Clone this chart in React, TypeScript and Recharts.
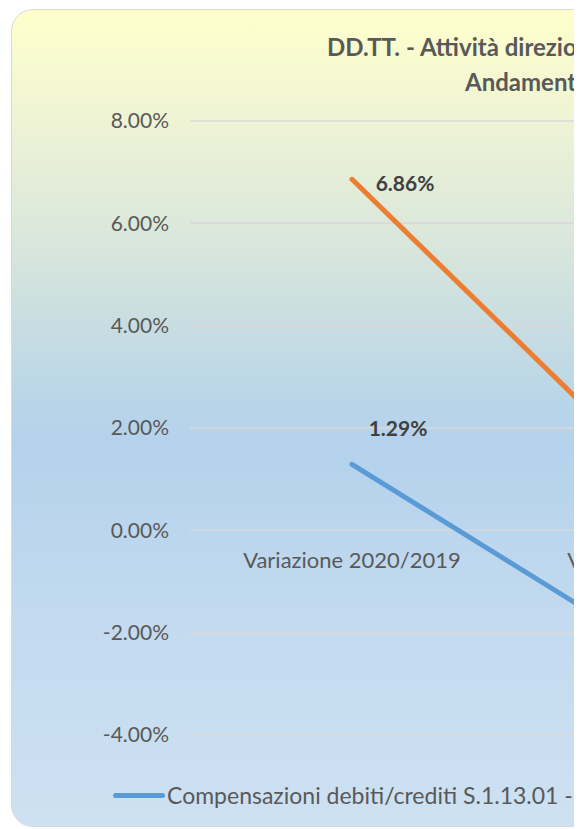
import React from 'react';
import { LineChart, Line, XAxis, YAxis, CartesianGrid, Legend, LabelList } from 'recharts';

const categories = ['Variazione 2020/2019', 'Variazione 2021/2020'];
const numeroValues = [1.29, -2.64];
const importoValues = [6.86, 0.69];
const yTicks = [-4, -2, 0, 2, 4, 6, 8];
const titleLines = ['DD.TT. - Attività direzioni territoriali', 'Andamento compensazioni'];
const seriesNumero = { key: 'numero', name: 'Compensazioni debiti/crediti S.1.13.01 - Numero', color: '#5B9BD5' };
const seriesImporto = { key: 'importo', name: 'Compensazioni debiti/crediti S.1.13.01 - Importo', color: '#ED7D31' };
const seriesList = [seriesNumero, seriesImporto];

const data = categories.map((c, i) => ({
  cat: c,
  numero: numeroValues[i],
  importo: importoValues[i],
  base: 0,
}));

const FONT = 'Lato, "Open Sans", sans-serif';
const fmt = (v: number) => `${v.toFixed(2)}%`;

const makeValueLabel = (dx: number, dy: number) => (props: any) => {
  const { x, y, value, index } = props;
  if (index !== 0) return null;
  return (
    <text
      x={x + dx}
      y={y + dy}
      textAnchor="middle"
      dominantBaseline="central"
      fontFamily={FONT}
      fontSize={21}
      fontWeight="bold"
      fill="#404040"
    >
      {fmt(Number(value))}
    </text>
  );
};

const CategoryLabel = (props: any) => {
  const { x, y, value } = props;
  return (
    <text
      x={x}
      y={y + 29}
      textAnchor="middle"
      dominantBaseline="central"
      fontFamily={FONT}
      fontSize={22}
      fill="#595959"
    >
      {value}
    </text>
  );
};

const renderLegend = () => (
  <div
    style={{
      display: 'flex',
      alignItems: 'center',
      whiteSpace: 'nowrap',
      fontFamily: FONT,
      fontSize: 23,
      color: '#595959',
      height: 30,
    }}
  >
    {seriesList.map((s) => (
      <div key={s.key} style={{ display: 'flex', alignItems: 'center', marginRight: 40 }}>
        <span
          style={{
            display: 'inline-block',
            width: 52,
            height: 5,
            borderRadius: 2.5,
            background: s.color,
            marginRight: 2,
          }}
        />
        <span>{s.name}</span>
      </div>
    ))}
  </div>
);

export default function App() {
  const W = 860;
  const H = 818;
  return (
    <div style={{ position: 'relative', width: 566, height: 821, overflow: 'hidden' }}>
      <div
        style={{
          position: 'absolute',
          left: 3,
          top: 1,
          width: W,
          height: H,
          boxSizing: 'border-box',
          border: '1.5px solid #D9D9D9',
          borderRadius: 22,
          background:
            'linear-gradient(to bottom, #FFFFCC 0%, #EEF3D5 14%, #D6E5DC 30%, #B9D5E8 48%, #B4D2EC 53%, #C3DAEF 75%, #CDE1F2 100%)',
        }}
      />
      <div style={{ position: 'absolute', left: 3, top: 1 }}>
        <LineChart
          width={W}
          height={H}
          data={data}
          margin={{ top: 112, right: 33, bottom: 62, left: 0 }}
        >
          <CartesianGrid vertical={false} stroke="#D9D9D9" strokeWidth={1.5} />
          <XAxis dataKey="cat" scale="band" hide />
          <YAxis
            width={179}
            domain={[-4, 8]}
            ticks={yTicks}
            tickFormatter={fmt}
            axisLine={false}
            tickLine={false}
            tickSize={0}
            tickMargin={21}
            tick={{ fontFamily: FONT, fontSize: 21, fill: '#595959' }}
          />
          <Legend
            verticalAlign="bottom"
            content={renderLegend}
            wrapperStyle={{ top: 771, left: 102, width: 'auto', height: 30 }}
          />
          <Line
            dataKey="base"
            stroke="none"
            dot={false}
            activeDot={false}
            legendType="none"
            isAnimationActive={false}
          >
            <LabelList dataKey="cat" content={CategoryLabel} />
          </Line>
          <Line
            dataKey={seriesNumero.key}
            name={seriesNumero.name}
            stroke={seriesNumero.color}
            strokeWidth={5}
            strokeLinecap="round"
            dot={false}
            isAnimationActive={false}
          >
            <LabelList dataKey={seriesNumero.key} content={makeValueLabel(46, -37)} />
          </Line>
          <Line
            dataKey={seriesImporto.key}
            name={seriesImporto.name}
            stroke={seriesImporto.color}
            strokeWidth={5}
            strokeLinecap="round"
            dot={false}
            isAnimationActive={false}
          >
            <LabelList dataKey={seriesImporto.key} content={makeValueLabel(53, 3)} />
          </Line>
        </LineChart>
      </div>
      <svg
        width={W}
        height={120}
        style={{ position: 'absolute', left: 3, top: 1, pointerEvents: 'none' }}
      >
        <text x={316} y={47} fontFamily={FONT} fontSize={24} fontWeight="bold" fill="#595959">
          {titleLines[0]}
        </text>
        <text x={454} y={82} fontFamily={FONT} fontSize={24} fontWeight="bold" fill="#595959">
          {titleLines[1]}
        </text>
      </svg>
    </div>
  );
}
